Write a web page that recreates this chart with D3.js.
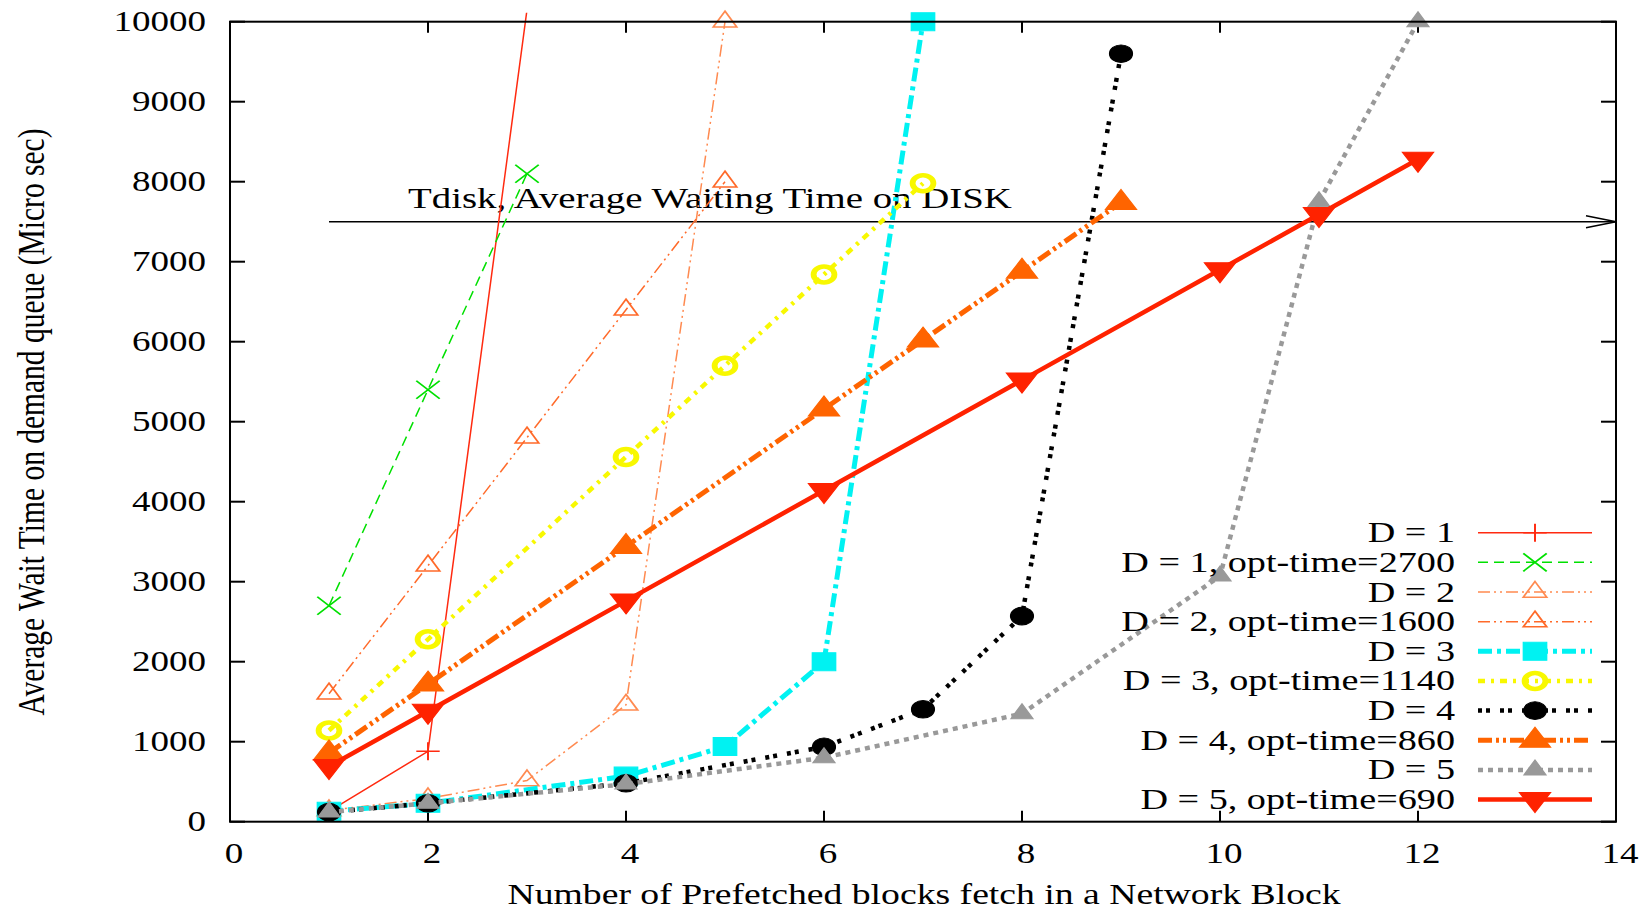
<!DOCTYPE html>
<html>
<head>
<meta charset="utf-8">
<script src="https://cdn.jsdelivr.net/npm/d3@7"></script>
<style>
  html, body { margin: 0; padding: 0; background: #fff; }
  text { font-family: "Liberation Serif", "Times New Roman", serif; fill: #000; }
</style>
</head>
<body>
<div id="chart"></div>
<script>
// values
const xTicks = [0, 2, 4, 6, 8, 10, 12, 14];
const yTicks = [0, 1000, 2000, 3000, 4000, 5000, 6000, 7000, 8000, 9000, 10000];

const xD1 = [1, 2, 3];
const yD1 = [130, 880, 10150];
const xD1opt = [1, 2, 3];
const yD1opt = [2700, 5400, 8100];
const xD2 = [1, 2, 3, 4, 5];
const yD2 = [140, 290, 515, 1460, 10000];
const xD2opt = [1, 2, 3, 4, 5];
const yD2opt = [1600, 3200, 4800, 6400, 8000];
const xD3 = [1, 2, 4, 5, 6, 7];
const yD3 = [130, 230, 570, 940, 2000, 10000];
const xD3opt = [1, 2, 4, 5, 6, 7];
const yD3opt = [1140, 2280, 4560, 5700, 6840, 7980];
const xD4 = [1, 2, 4, 6, 7, 8, 9];
const yD4 = [120, 230, 480, 935, 1405, 2570, 9600];
const xD4opt = [1, 2, 4, 6, 7, 8, 9];
const yD4opt = [860, 1720, 3440, 5160, 6020, 6880, 7740];
const xD5 = [1, 2, 4, 6, 8, 10, 11, 12];
const yD5 = [120, 230, 470, 800, 1350, 3070, 7750, 10000];
const xD5opt = [1, 2, 4, 6, 8, 10, 11, 12];
const yD5opt = [690, 1380, 2760, 4140, 5520, 6900, 7590, 8280];

const tdisk = 7500;
const tdiskStart = 1;

const series = [
  { name: "D = 1", xs: xD1, ys: yD1, color: "#ff2a10", width: 1.5, dash: null, mark: "plus" },
  { name: "D = 1, opt-time=2700", xs: xD1opt, ys: yD1opt, color: "#00e000", width: 1.5, dash: "10,6", mark: "cross" },
  { name: "D = 2", xs: xD2, ys: yD2, color: "#ff8a50", width: 1.5, dash: "12,4,2,4,2,4", mark: "tri" },
  { name: "D = 2, opt-time=1600", xs: xD2opt, ys: yD2opt, color: "#ff6a2a", width: 1.5, dash: "12,4,2,4,2,4", mark: "tri" },
  { name: "D = 3", xs: xD3, ys: yD3, color: "#00f2f2", width: 5, dash: "14,5,4,5", mark: "square" },
  { name: "D = 3, opt-time=1140", xs: xD3opt, ys: yD3opt, color: "#f8f800", width: 4.5, dash: "7,6,3,6", mark: "circle" },
  { name: "D = 4", xs: xD4, ys: yD4, color: "#000000", width: 4.5, dash: "4,4,4,10", mark: "dot" },
  { name: "D = 4, opt-time=860", xs: xD4opt, ys: yD4opt, color: "#ff6400", width: 5, dash: "14,4,3,4,3,4", mark: "triFill" },
  { name: "D = 5", xs: xD5, ys: yD5, color: "#999999", width: 4.5, dash: "5,5", mark: "triSmall" },
  { name: "D = 5, opt-time=690", xs: xD5opt, ys: yD5opt, color: "#ff2200", width: 4.5, dash: null, mark: "triDown" }
];

const width = 1641;
const height = 909;
const SX = 1.3;            // the figure is stretched sideways
const fs = 28.5;
const margin = { left: 230, right: 25, top: 21.7, bottom: 87.3 };

const x = d3.scaleLinear().domain([0, 14]).range([margin.left, width - margin.right]);
const y = d3.scaleLinear().domain([0, 10000]).range([height - margin.bottom, margin.top]);

const svg = d3.select("#chart").append("svg")
  .attr("width", width)
  .attr("height", height);

svg.append("defs").append("clipPath").attr("id", "plot")
  .append("rect")
  .attr("x", x(0))
  .attr("y", y(10000) - 9)
  .attr("width", x(14) - x(0))
  .attr("height", y(0) - y(10000) + 9);

const addText = (g, px, py, str, anchor, size, sx) => g.append("text")
  .attr("transform", `translate(${px},${py}) scale(${sx || SX},1)`)
  .attr("text-anchor", anchor)
  .style("font-size", (size || fs) + "px")
  .text(str);

// ticks, mirrored on all four sides, pointing inwards
const axes = svg.append("g").attr("stroke", "#000").attr("stroke-width", 2);
yTicks.forEach(v => {
  axes.append("line").attr("x1", x(0)).attr("x2", x(0) + 15).attr("y1", y(v)).attr("y2", y(v));
  axes.append("line").attr("x1", x(14)).attr("x2", x(14) - 15).attr("y1", y(v)).attr("y2", y(v));
  addText(svg, x(0) - 24, y(v) + 9.5, String(v), "end");
});
xTicks.forEach(v => {
  axes.append("line").attr("x1", x(v)).attr("x2", x(v)).attr("y1", y(0)).attr("y2", y(0) - 11);
  axes.append("line").attr("x1", x(v)).attr("x2", x(v)).attr("y1", y(10000)).attr("y2", y(10000) + 11);
  addText(svg, x(v) + 4, 862.5, String(v), "middle");
});

// Tdisk reference line with arrow
const ty = y(tdisk);
const ref = svg.append("g").attr("stroke", "#000").attr("stroke-width", 1.5).attr("fill", "none");
ref.append("line").attr("x1", x(tdiskStart)).attr("x2", x(14)).attr("y1", ty).attr("y2", ty);
ref.append("path").attr("d", `M${x(14) - 30},${ty - 6}L${x(14)},${ty}L${x(14) - 30},${ty + 6}`);
addText(svg, 408, 208, "Tdisk, Average Waiting Time on DISK", "start", 29, 1.34);

// marker shapes, drawn unstretched then widened like the text
const markPath = (kind) => {
  switch (kind) {
    case "plus": return "M-9,0H9M0,-9V9";
    case "cross": return "M-9,-9L9,9M-9,9L9,-9";
    case "tri": return "M0,-10.5L9,5.2L-9,5.2Z";
    case "triFill": return "M0,-13L12,7L-12,7Z";
    case "triSmall": return "M0,-10L8.5,5L-8.5,5Z";
    case "triDown": return "M0,13L12,-7L-12,-7Z";
    case "square": return "M-9,-9H9V9H-9Z";
    case "circle": return "M8,0A8,8 0 1,1 -8,0A8,8 0 1,1 8,0Z";
    case "dot": return "M8.8,0A8.8,8.8 0 1,1 -8.8,0A8.8,8.8 0 1,1 8.8,0Z";
  }
};
const drawMark = (g, s, px, py) => {
  const filled = ["triFill", "triSmall", "triDown", "square", "dot"].includes(s.mark);
  g.append("path")
    .attr("transform", `translate(${px},${py}) scale(${SX},1)`)
    .attr("d", markPath(s.mark))
    .attr("fill", filled ? s.color : "none")
    .attr("stroke", s.color)
    .attr("stroke-width", s.mark === "circle" ? 4.5 : (filled ? 1 : 1.5));
};

const line = d3.line().x(d => x(d[0])).y(d => y(d[1]));

const plot = svg.append("g");
series.forEach(s => {
  const pts = s.xs.map((v, i) => [v, s.ys[i]]);
  plot.append("path")
    .attr("clip-path", "url(#plot)")
    .attr("d", line(pts))
    .attr("fill", "none")
    .attr("stroke", s.color)
    .attr("stroke-width", s.width)
    .attr("stroke-dasharray", s.dash);
  pts.filter(p => p[1] <= 10000).forEach(p => drawMark(plot, s, x(p[0]), y(p[1])));
});

// legend
const legend = svg.append("g");
series.forEach((s, i) => {
  const ry = 532.7 + i * 29.65;
  addText(legend, 1455, ry + 9.5, s.name, "end", fs, 1.34);
  legend.append("line")
    .attr("x1", 1478).attr("x2", 1592)
    .attr("y1", ry).attr("y2", ry)
    .attr("stroke", s.color)
    .attr("stroke-width", s.width)
    .attr("stroke-dasharray", s.dash);
  drawMark(legend, s, 1535, ry);
});

// border
svg.append("rect")
  .attr("x", x(0)).attr("y", y(10000))
  .attr("width", x(14) - x(0)).attr("height", y(0) - y(10000))
  .attr("fill", "none").attr("stroke", "#000").attr("stroke-width", 2);

// axis titles
addText(svg, 924, 904, "Number of Prefetched blocks fetch in a Network Block", "middle", 29);
svg.append("text")
  .attr("transform", `translate(44,422) scale(${SX},1) rotate(-90)`)
  .attr("text-anchor", "middle")
  .style("font-size", "29.5px")
  .text("Average Wait Time on demand queue (Micro sec)");
</script>
</body>
</html>
